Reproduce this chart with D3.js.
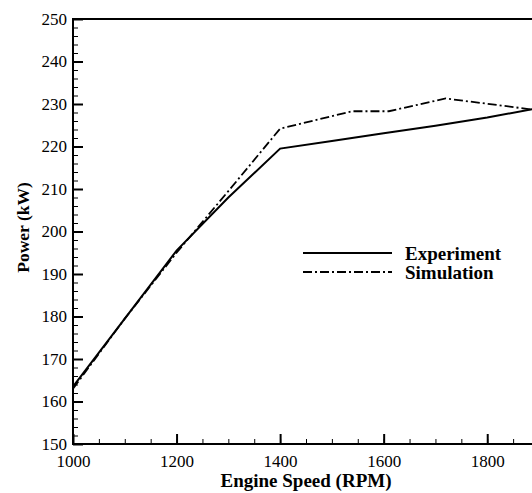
<!DOCTYPE html>
<html>
<head>
<meta charset="utf-8">
<script src="https://cdn.jsdelivr.net/npm/d3@7"></script>
<style>
  body { margin: 0; background: #fff; }
  svg { display: block; }
</style>
</head>
<body>
<div id="chart"></div>
<script>
// data
const expRpm   = [1000, 1100, 1200, 1300, 1400, 1500, 1600, 1700, 1800, 1900];
const expPower = [163.5, 179.5, 195.5, 208, 219.5, 221.3, 223.1, 224.9, 226.8, 229.1];
const simRpm   = [1000, 1100, 1200, 1300, 1400, 1540, 1610, 1720, 1900];
const simPower = [163, 179.5, 195, 209.5, 224.2, 228.3, 228.3, 231.3, 228.5];
const xTicks = [1000, 1200, 1400, 1600, 1800];
const yTicks = [150, 160, 170, 180, 190, 200, 210, 220, 230, 240, 250];
const seriesNames = ["Experiment", "Simulation"];

const width = 532, height = 493;
const margin = {top: 19, left: 73, right: 539, bottom: 444};
const serif = "'Liberation Serif', 'Times New Roman', Times, serif";

const svg = d3.select("#chart").append("svg")
  .attr("width", width)
  .attr("height", height);

const x = d3.scaleLinear().domain([1000, 1900]).range([margin.left, margin.right]);
const y = d3.scaleLinear().domain([150, 250]).range([margin.bottom, margin.top]);

// minor ticks first, then major ones on top
svg.append("g")
  .attr("transform", `translate(0,${margin.bottom})`)
  .call(d3.axisBottom(x).tickValues(d3.range(1000, 1901, 50)).tickSize(-5).tickFormat(""))
  .call(g => g.select(".domain").remove())
  .call(g => g.selectAll("line").attr("stroke", "#000").attr("stroke-width", 1));

svg.append("g")
  .attr("transform", `translate(${margin.left},0)`)
  .call(d3.axisLeft(y).tickValues(d3.range(150, 251, 2)).tickSize(-5).tickFormat(""))
  .call(g => g.select(".domain").remove())
  .call(g => g.selectAll("line").attr("stroke", "#000").attr("stroke-width", 1));

svg.append("g")
  .attr("transform", `translate(0,${margin.bottom})`)
  .call(d3.axisBottom(x).tickValues(xTicks).tickSize(-10).tickPadding(11).tickFormat(d3.format("d")))
  .call(g => g.select(".domain").remove())
  .call(g => g.selectAll("line").attr("stroke", "#000").attr("stroke-width", 2));

svg.append("g")
  .attr("transform", `translate(${margin.left},0)`)
  .call(d3.axisLeft(y).tickValues(yTicks).tickSize(-10).tickPadding(6).tickFormat(d3.format("d")))
  .call(g => g.select(".domain").remove())
  .call(g => g.selectAll("line").attr("stroke", "#000").attr("stroke-width", 2));

svg.selectAll("g text")
  .attr("fill", "#000")
  .style("font-family", serif)
  .style("font-size", "17px");

// frame
svg.append("rect")
  .attr("x", margin.left)
  .attr("y", margin.top)
  .attr("width", margin.right - margin.left)
  .attr("height", margin.bottom - margin.top)
  .attr("fill", "none")
  .attr("stroke", "#000")
  .attr("stroke-width", 2);

const line = d3.line().x(d => x(d[0])).y(d => y(d[1]));

svg.append("path")
  .datum(d3.zip(expRpm, expPower))
  .attr("d", line)
  .attr("fill", "none")
  .attr("stroke", "#000")
  .attr("stroke-width", 2);

svg.append("path")
  .datum(d3.zip(simRpm, simPower))
  .attr("d", line)
  .attr("fill", "none")
  .attr("stroke", "#000")
  .attr("stroke-width", 1.8)
  .attr("stroke-dasharray", "9,3,2,3");

// legend
const legend = svg.append("g").attr("transform", "translate(303,253)");
seriesNames.forEach((name, i) => {
  legend.append("line")
    .attr("x1", 0).attr("x2", 89)
    .attr("y1", i * 19).attr("y2", i * 19)
    .attr("stroke", "#000")
    .attr("stroke-width", 2)
    .attr("stroke-dasharray", i === 0 ? null : "9,3,2,3");
  legend.append("text")
    .attr("x", 102)
    .attr("y", i * 19 + 7)
    .style("font-family", serif)
    .style("font-weight", "bold")
    .style("font-size", "19px")
    .text(name);
});

// axis titles
svg.append("text")
  .attr("x", 306)
  .attr("y", 487)
  .attr("text-anchor", "middle")
  .style("font-family", serif)
  .style("font-weight", "bold")
  .style("font-size", "19px")
  .text("Engine Speed (RPM)");

svg.append("text")
  .attr("transform", `translate(29,${(margin.top + margin.bottom) / 2 - 4}) rotate(-90)`)
  .attr("text-anchor", "middle")
  .style("font-family", serif)
  .style("font-weight", "bold")
  .style("font-size", "17.5px")
  .text("Power (kW)");
</script>
</body>
</html>
